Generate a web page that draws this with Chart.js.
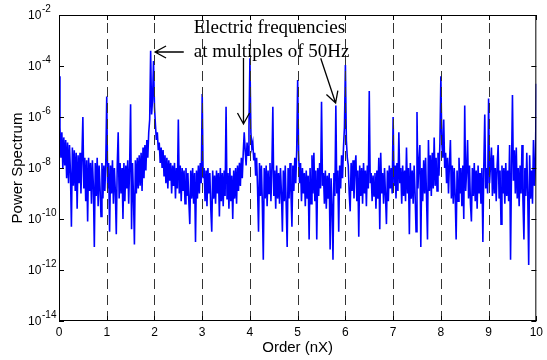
<!DOCTYPE html>
<html>
<head>
<meta charset="utf-8">
<script src="https://cdn.jsdelivr.net/npm/chart.js@4.4.1/dist/chart.umd.min.js"></script>
<style>
  html, body { margin: 0; padding: 0; background: #fff; }
  canvas { display: block; }
</style>
</head>
<body>
<canvas id="spectrum" width="547" height="360"></canvas>
<script>
// power spectrum, as log10(power), one value every 0.02 order
const orderStep = 0.02;
const logP0 = [-4.4, -6.4, -7.6, -6.6, -8.0, -6.8, -7.9, -6.9, -8.4, -7.0,
  -8.6, -7.1, -8.2, -10.3, -7.2, -8.7, -7.3, -8.9, -7.4, -9.6,
  -7.5, -8.6, -7.4, -9.0, -7.6, -6.0, -8.8, -7.6, -9.3, -7.7,
  -10.1, -7.6, -8.9, -7.8, -9.4, -7.7, -8.7, -11.1, -7.8, -9.1,
  -7.6, -9.5, -7.9, -8.8, -9.9, -7.8, -9.2, -7.9, -8.9, -7.8];
const logP1 = [-5.2, -8.8, -7.8, -10.5, -7.9, -9.0, -7.7, -9.4, -8.0, -8.9,
  -10.6, -7.9, -6.6, -9.2, -7.8, -9.0, -8.0, -10.0, -7.8, -9.3,
  -7.9, -8.8, -7.7, -9.4, -7.9, -5.5, -10.4, -7.8, -9.1, -11.0,
  -7.7, -9.0, -7.6, -8.8, -7.5, -8.7, -7.4, -8.9, -7.2, -8.4,
  -7.1, -8.1, -6.9, -7.6, -6.6, -6.1, -3.4, -5.9, -5.3, -3.8];
const logP2 = [-5.6, -6.3, -6.9, -6.6, -7.3, -7.0, -7.8, -7.2, -8.0, -7.3,
  -8.3, -7.5, -8.6, -7.6, -8.8, -7.7, -8.5, -7.8, -9.0, -7.9,
  -8.7, -7.8, -9.2, -8.0, -8.8, -6.1, -9.0, -7.9, -9.3, -8.0,
  -8.9, -8.1, -9.4, -8.0, -9.1, -8.2, -9.3, -10.2, -8.1, -9.2,
  -8.0, -9.4, -8.2, -10.9, -8.1, -9.2, -7.9, -9.0, -7.8, -8.6];
const logP3 = [-5.1, -8.4, -8.0, -9.3, -8.1, -9.5, -8.0, -9.0, -8.2, -9.6,
  -10.5, -8.1, -9.2, -8.3, -9.4, -8.1, -9.0, -8.2, -9.9, -8.0,
  -9.3, -8.2, -9.5, -8.1, -9.1, -5.6, -9.2, -8.2, -9.6, -8.0,
  -9.3, -8.3, -10.0, -8.1, -9.2, -8.0, -9.4, -7.9, -8.9, -7.8,
  -8.7, -7.6, -8.4, -7.4, -6.6, -7.3, -7.9, -7.0, -7.5, -6.4];
const logP4 = [-3.7, -6.6, -7.2, -7.0, -7.7, -7.4, -8.3, -7.6, -8.8, -10.5,
  -7.8, -9.1, -7.9, -9.4, -11.6, -8.0, -9.2, -7.9, -9.5, -8.1,
  -9.0, -7.8, -9.3, -8.0, -5.6, -9.1, -8.1, -9.6, -7.9, -9.2,
  -8.2, -9.4, -8.0, -9.0, -10.5, -8.1, -9.3, -7.9, -9.5, -11.1,
  -8.0, -9.2, -7.8, -9.0, -10.3, -7.9, -8.9, -7.6, -8.6, -7.3];
const logP5 = [-4.55, -7.4, -8.6, -7.8, -9.3, -8.0, -9.0, -8.2, -9.5, -8.1,
  -9.2, -8.3, -10.8, -8.0, -9.4, -7.5, -9.0, -7.4, -9.3, -8.1,
  -10.8, -8.0, -9.1, -7.8, -8.8, -5.4, -8.7, -8.2, -9.4, -8.1,
  -9.6, -8.3, -9.2, -8.2, -11.2, -8.4, -9.5, -11.6, -8.2, -9.1,
  -5.55, -9.0, -8.1, -10.5, -7.9, -8.8, -7.5, -8.4, -7.2, -6.4];
const logP6 = [-3.96, -6.9, -7.6, -7.9, -9.0, -9.7, -7.8, -8.9, -7.7, -9.2,
  -8.0, -7.5, -9.3, -8.1, -10.7, -7.9, -9.1, -8.0, -9.4, -7.8,
  -9.0, -8.1, -9.5, -7.9, -8.8, -4.98, -8.6, -8.2, -9.3, -8.3,
  -9.1, -8.2, -9.6, -8.1, -9.2, -7.6, -10.4, -7.4, -9.0, -8.2,
  -9.4, -8.0, -9.1, -10.2, -8.1, -9.3, -7.9, -8.8, -8.0, -9.0];
const logP7 = [-6.0, -8.7, -7.9, -9.2, -7.8, -8.9, -6.6, -8.6, -8.0, -9.4,
  -7.9, -9.1, -8.1, -9.3, -7.2, -9.0, -8.0, -10.6, -7.8, -9.2,
  -8.1, -9.4, -7.9, -9.0, -10.5, -5.8, -8.8, -7.8, -7.1, -11.1,
  -8.0, -9.3, -7.7, -9.0, -7.6, -9.2, -10.8, -6.9, -8.9, -7.5,
  -9.1, -7.4, -8.8, -6.8, -8.7, -7.6, -8.9, -7.4, -8.3, -7.0];
const logP8 = [-4.4, -7.0, -7.6, -6.1, -8.0, -7.4, -8.6, -7.6, -9.0, -7.8,
  -6.9, -9.2, -7.9, -9.4, -8.0, -9.1, -10.8, -8.1, -9.3, -7.6,
  -9.0, -8.0, -9.5, -7.9, -10.0, -5.55, -8.9, -8.1, -6.9, -9.2,
  -7.9, -9.4, -10.1, -8.0, -9.1, -7.8, -9.3, -8.1, -9.6, -7.9,
  -9.0, -8.2, -9.4, -8.0, -10.9, -7.9, -5.9, -8.8, -8.0, -9.0];
const logP9 = [-5.27, -8.6, -7.9, -7.2, -9.1, -7.5, -9.0, -8.0, -9.3, -7.9,
  -7.1, -9.2, -8.1, -10.2, -7.9, -9.0, -8.0, -9.4, -7.8, -9.1,
  -8.1, -9.3, -7.1, -11.6, -8.0, -5.14, -8.5, -7.3, -9.0, -7.2,
  -9.2, -8.0, -9.5, -7.9, -9.0, -7.1, -9.3, -10.8, -8.0, -9.1,
  -7.4, -9.0, -11.8, -7.5, -9.2, -8.1, -9.4, -6.9, -8.7, -7.9];
const logPEnd = -4.7; // order 10

const orderTicks = [0, 1, 2, 3, 4, 5, 6, 7, 8, 9, 10];
const dashedOrders = [1, 2, 3, 4, 5, 6, 7, 8, 9];
const powerTickExps = [-2, -4, -6, -8, -10, -12, -14];

const noteLines = ['Electric frequencies', 'at multiples of 50Hz'];
// annotation anchors in data units: [order, log10 power]
const noteAnchors = [[2.822, -2.718], [2.822, -3.635]];
const arrows = [
  [[2.614, -3.451], [2.012, -3.451]],
  [[3.865, -3.686], [3.865, -6.275]],
  [[5.483, -3.698], [5.795, -5.451]]
];

const segments = [logP0, logP1, logP2, logP3, logP4, logP5, logP6, logP7, logP8, logP9];
const points = [];
segments.forEach((seg, k) => {
  seg.forEach((v, i) => points.push({ x: k + i * orderStep, y: Math.pow(10, v) }));
});
points.push({ x: 10, y: Math.pow(10, logPEnd) });

const sansFont = "'Liberation Sans', Arial, sans-serif";
Chart.defaults.font.family = sansFont;
Chart.defaults.color = '#000';

const decorations = {
  id: 'decorations',
  afterDatasetsDraw(chart) {
    const { ctx, chartArea: a, scales: { x, y } } = chart;
    ctx.save();

    // dashed lines at each order
    ctx.strokeStyle = '#333';
    ctx.lineWidth = 1;
    ctx.setLineDash([10, 6]);
    dashedOrders.forEach(o => {
      const px = Math.round(x.getPixelForValue(o)) + 0.5;
      ctx.beginPath();
      ctx.moveTo(px, a.bottom);
      ctx.lineTo(px, a.top);
      ctx.stroke();
    });
    ctx.setLineDash([]);

    // box + inward ticks
    ctx.strokeStyle = '#000';
    ctx.strokeRect(a.left + 0.5, a.top + 0.5, a.right - a.left - 1, a.bottom - a.top - 1);
    ctx.beginPath();
    powerTickExps.forEach(e => {
      const py = Math.round(y.getPixelForValue(Math.pow(10, e))) + 0.5;
      ctx.moveTo(a.left, py); ctx.lineTo(a.left + 5, py);
      ctx.moveTo(a.right, py); ctx.lineTo(a.right - 5, py);
    });
    orderTicks.forEach(o => {
      const px = Math.round(x.getPixelForValue(o)) + 0.5;
      ctx.moveTo(px, a.bottom); ctx.lineTo(px, a.bottom - 5);
      ctx.moveTo(px, a.top); ctx.lineTo(px, a.top + 5);
    });
    ctx.stroke();

    // y labels with superscript exponents
    ctx.fillStyle = '#000';
    ctx.textAlign = 'left';
    ctx.textBaseline = 'middle';
    powerTickExps.forEach(e => {
      const py = y.getPixelForValue(Math.pow(10, e));
      ctx.font = '12px ' + sansFont;
      ctx.fillText('10', 28, py + 1);
      ctx.font = '10px ' + sansFont;
      ctx.fillText(String(e), 42, py - 5.5);
    });

    // annotation
    ctx.font = "19px 'Liberation Serif', 'Times New Roman', serif";
    ctx.textBaseline = 'alphabetic';
    noteLines.forEach((t, i) => {
      const [o, lp] = noteAnchors[i];
      ctx.fillText(t, x.getPixelForValue(o), y.getPixelForValue(Math.pow(10, lp)));
    });

    ctx.lineWidth = 1.3;
    arrows.forEach(([tail, tip]) => {
      const x0 = x.getPixelForValue(tail[0]), y0 = y.getPixelForValue(Math.pow(10, tail[1]));
      const x1 = x.getPixelForValue(tip[0]), y1 = y.getPixelForValue(Math.pow(10, tip[1]));
      const len = Math.hypot(x1 - x0, y1 - y0);
      const ux = (x1 - x0) / len, uy = (y1 - y0) / len;
      const bx = x1 - ux * 11, by = y1 - uy * 11;
      ctx.beginPath();
      ctx.moveTo(x0, y0); ctx.lineTo(x1, y1);
      ctx.moveTo(bx - uy * 6, by + ux * 6); ctx.lineTo(x1, y1); ctx.lineTo(bx + uy * 6, by - ux * 6);
      ctx.stroke();
    });

    ctx.restore();
  }
};

new Chart(document.getElementById('spectrum'), {
  type: 'line',
  data: {
    datasets: [{
      data: points,
      borderColor: '#0000ff',
      borderWidth: 1.6,
      pointRadius: 0,
      tension: 0,
      fill: false
    }]
  },
  options: {
    responsive: false,
    animation: false,
    parsing: false,
    normalized: true,
    layout: { padding: { top: 15, right: 6, left: 0, bottom: 0 } },
    plugins: { legend: { display: false }, tooltip: { enabled: false } },
    scales: {
      x: {
        type: 'linear', min: 0, max: 10,
        grid: { display: false, drawTicks: false },
        border: { display: false },
        ticks: { stepSize: 1, autoSkip: false, maxRotation: 0, padding: 4, font: { size: 12 } },
        title: { display: true, text: 'Order (nX)', font: { size: 15 }, padding: { top: 0, bottom: 3 } },
        afterFit(s) { s.height = 39; }
      },
      y: {
        type: 'logarithmic', min: 1e-14, max: 1e-2,
        grid: { display: false, drawTicks: false },
        border: { display: false },
        ticks: { display: false },
        title: { display: true, text: 'Power Spectrum', font: { size: 15 }, padding: { top: 9, bottom: 0 } },
        afterFit(s) { s.width = 59; }
      }
    }
  },
  plugins: [decorations]
});
</script>
</body>
</html>
